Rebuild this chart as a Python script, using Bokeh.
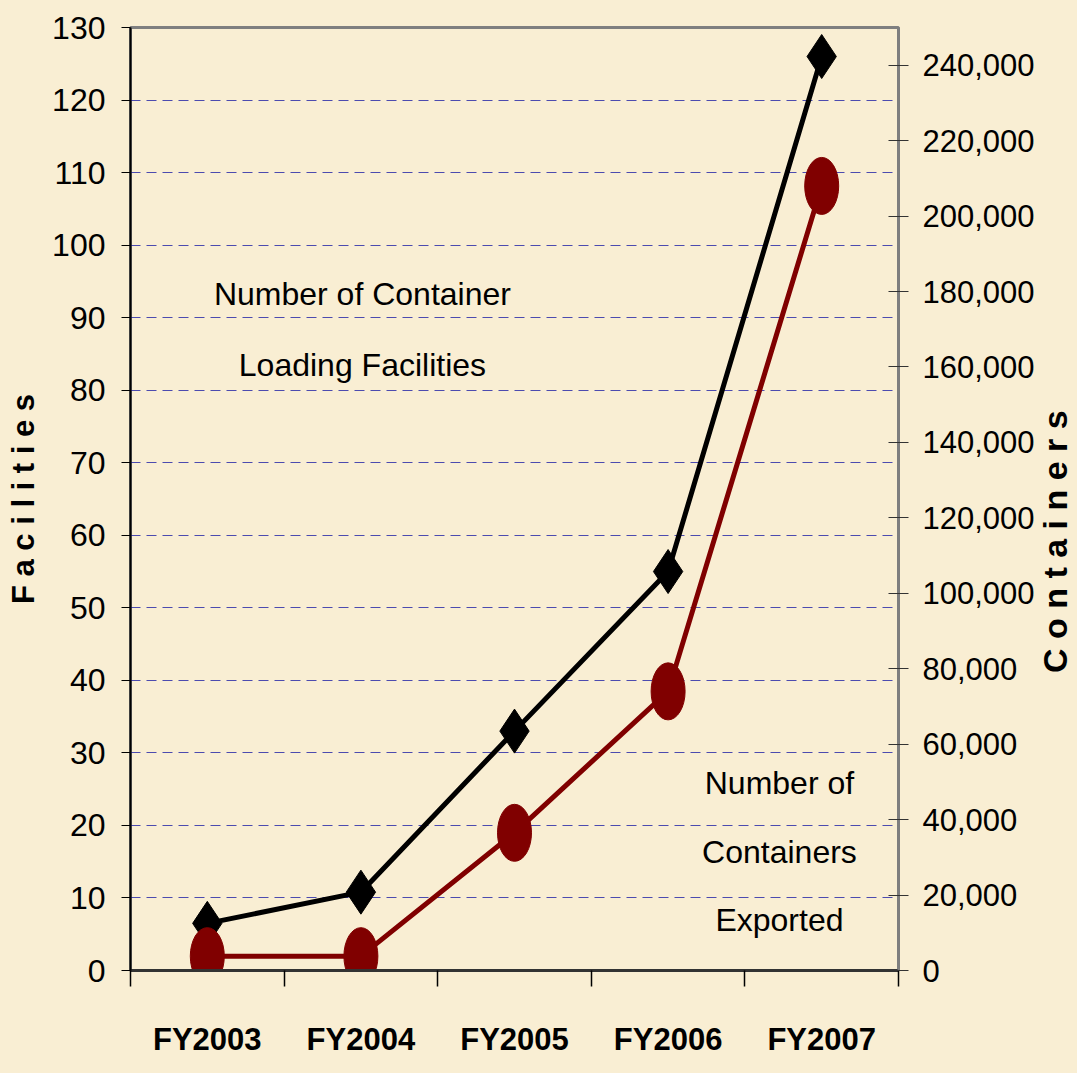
import math
from bokeh.plotting import figure
from bokeh.layouts import row
from bokeh.models import Range1d, LinearAxis, FixedTicker, NumeralTickFormatter, Label
from bokeh.embed import file_html
from bokeh.resources import INLINE
from bokeh.core.properties import value

# ---- data ----
categories = ["FY2003", "FY2004", "FY2005", "FY2006", "FY2007"]
facilities = [6.5, 10.8, 33, 55, 126]
containers = [3800, 3800, 36500, 74000, 208000]
left_ticks = list(range(0, 140, 10))
right_ticks = list(range(0, 260000, 20000))

xpos = [i + 0.5 for i in range(len(categories))]
bounds = list(range(len(categories) + 1))

BG = "#F9EED3"
FONT = "Liberation Sans"
TOTAL_H = 1071

p = figure(frame_width=768, frame_height=943,
           min_border_left=130, min_border_right=138,
           min_border_top=27, min_border_bottom=101,
           x_range=Range1d(0, len(categories)), y_range=Range1d(0, 130),
           output_backend="svg", toolbar_location=None,
           background_fill_color=BG, border_fill_color=BG)
p.extra_y_ranges = {"cont": Range1d(0, 250000)}

p.outline_line_color = "#7F7F7F"
p.outline_line_width = 3

# grid
p.xgrid.visible = False
p.ygrid.ticker = FixedTicker(ticks=left_ticks[1:-1])
p.ygrid.grid_line_color = "#2E2EA8"
p.ygrid.grid_line_alpha = 0.85
p.ygrid.grid_line_dash = "10 6"
p.ygrid.grid_line_width = 1

# left axis
ya = p.yaxis[0]
ya.ticker = FixedTicker(ticks=left_ticks)
ya.axis_line_color = "black"
ya.axis_line_width = 2
ya.major_tick_in = 0
ya.major_tick_out = 9
ya.major_tick_line_color = "black"
ya.minor_tick_line_color = None
ya.major_label_standoff = 16
ya.major_label_text_font = FONT
ya.major_label_text_font_size = "32px"
ya.major_label_text_color = "black"
ya.axis_label = "F a c i l i t i e s"
ya.axis_label_standoff = 8
ya.axis_label_text_font = FONT
ya.axis_label_text_font_style = "bold"
ya.axis_label_text_font_size = "31px"
ya.axis_label_text_color = "black"

# bottom axis
xa = p.xaxis[0]
xa.ticker = FixedTicker(ticks=xpos, minor_ticks=bounds)
xa.major_label_overrides = {x: c for x, c in zip(xpos, categories)}
xa.axis_line_color = "#333333"
xa.axis_line_width = 3
xa.major_tick_in = 0
xa.major_tick_out = 0
xa.minor_tick_in = 0
xa.minor_tick_out = 16
xa.minor_tick_line_color = "black"
xa.minor_tick_line_width = 1.5
xa.major_label_standoff = 35
xa.major_label_text_font = FONT
xa.major_label_text_font_style = "bold"
xa.major_label_text_font_size = "31px"
xa.major_label_text_color = "black"

# right axis
ra = LinearAxis(y_range_name="cont", ticker=FixedTicker(ticks=right_ticks),
                formatter=NumeralTickFormatter(format="0,0"))
ra.axis_line_color = "#7F7F7F"
ra.axis_line_width = 2
ra.major_tick_in = 10
ra.major_tick_out = 10
ra.major_tick_line_color = "#333333"
ra.minor_tick_line_color = None
ra.major_label_standoff = 14
ra.major_label_text_font = FONT
ra.major_label_text_font_size = "31px"
ra.major_label_text_color = "black"
p.add_layout(ra, "right")

# series
p.line(xpos, facilities, line_color="black", line_width=5)
p.scatter(xpos, facilities, marker="diamond", size=44, fill_color="black", line_color="black")
p.line(xpos, containers, y_range_name="cont", line_color="#800000", line_width=5)
p.ellipse(x=xpos, y=containers, width=34, height=57, width_units="screen", height_units="screen",
          y_range_name="cont", fill_color="#800000", line_color="#800000")

# annotations
def add_text(x, y, t):
    p.add_layout(Label(x=x, y=y, text=t, text_align="center", text_baseline="middle",
                       text_font=FONT, text_font_size="32px", text_color="black"))

add_text(1.51, 93.2, "Number of Container")
add_text(1.51, 83.5, "Loading Facilities")
add_text(4.225, 25.9, "Number of")
add_text(4.225, 16.4, "Containers")
add_text(4.225, 6.9, "Exported")

# right-hand axis title strip (reads bottom to top)
side = figure(width=39, height=TOTAL_H, x_range=Range1d(0, 1), y_range=Range1d(0, TOTAL_H),
              min_border=0, min_border_left=0, min_border_right=0, min_border_top=0, min_border_bottom=0,
              output_backend="svg", toolbar_location=None,
              background_fill_color=BG, border_fill_color=BG, outline_line_color=None)
side.axis.visible = False
side.grid.visible = False
side.text(x=[0.45], y=[TOTAL_H - 584], text=["C o n t a i n e r s"], angle=math.pi / 2,
          text_align="center", text_baseline="middle", text_font=value(FONT),
          text_font_style="bold", text_font_size="34px", text_color="black")

layout = row(p, side, spacing=0)
html = file_html(layout, INLINE).replace("<body>", '<body style="background-color:%s">' % BG)
open("out.html", "w").write(html)
